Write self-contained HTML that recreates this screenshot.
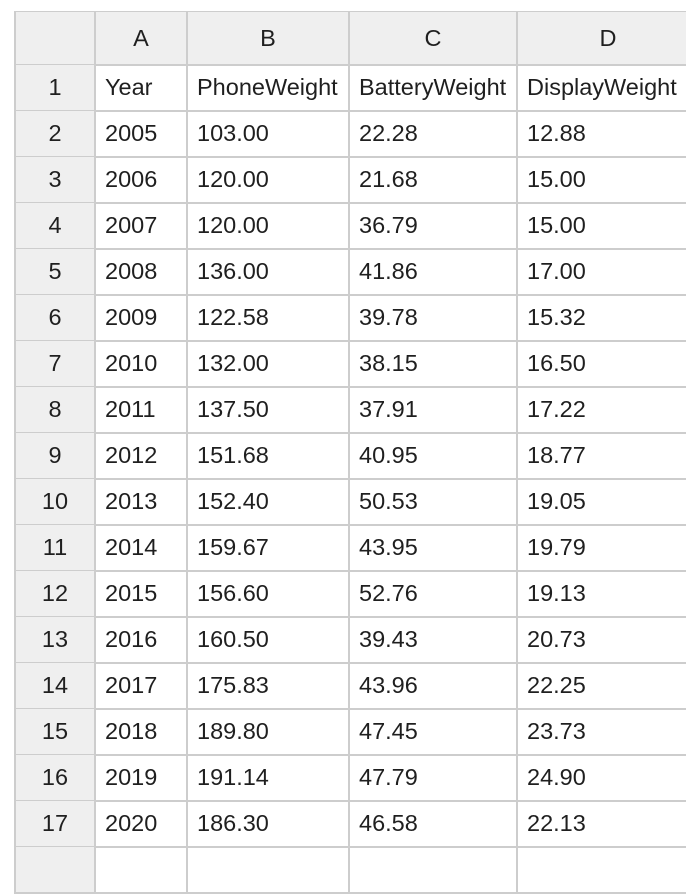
<!DOCTYPE html>
<html><head><meta charset="utf-8"><style>
body{margin:0;width:686px;height:860px;background:#fff;overflow:hidden;font-family:"Liberation Sans",Arial,sans-serif;}
#sheet{position:absolute;left:0;top:0;width:686px;height:860px;}
.c{position:absolute;box-sizing:border-box;border-right:2px solid #cdcdcd;border-bottom:2px solid #cdcdcd;font-size:23.5px;color:#1f1f1f;line-height:44px;white-space:nowrap;overflow:hidden;}
.h{background:#efefef;text-align:center;}
.d{padding-left:9px;}
</style></head><body>
<div id="sheet"></div>
<script>
const headers=["A","B","C","D"];
const cols=["Year","PhoneWeight","BatteryWeight","DisplayWeight"];
const years=["2005","2006","2007","2008","2009","2010","2011","2012","2013","2014","2015","2016","2017","2018","2019","2020"];
const phone=["103.00","120.00","120.00","136.00","122.58","132.00","137.50","151.68","152.40","159.67","156.60","160.50","175.83","189.80","191.14","186.30"];
const battery=["22.28","21.68","36.79","41.86","39.78","38.15","37.91","40.95","50.53","43.95","52.76","39.43","43.96","47.45","47.79","46.58"];
const display=["12.88","15.00","15.00","17.00","15.32","16.50","17.22","18.77","19.05","19.79","19.13","20.73","22.25","23.73","24.90","22.13"];
const xs=[14,96,188,350,518,700];
const sheet=document.getElementById('sheet');
function cell(ci,y,h,txt,cls,name){
  const el=document.createElement('div');
  el.className='c '+cls;
  el.style.left=xs[ci]+'px';el.style.top=y+'px';
  el.style.width=(xs[ci+1]-xs[ci])+'px';el.style.height=h+'px';
  el.style.lineHeight=(h-2)+'px';
  if(ci===0) el.style.borderLeft='2px solid #cdcdcd';
  el.textContent=txt;
  
  
  sheet.appendChild(el);
}
const tb=document.createElement('div');
tb.style.cssText='position:absolute;left:14px;top:11px;width:672px;height:2px;background:#cdcdcd';


sheet.appendChild(tb);
cell(0,12,54,'','h','corner-cell');
headers.forEach((t,i)=>cell(i+1,12,54,t,'h','column-header-'+t.toLowerCase()));
const rows=[cols].concat(years.map((y,i)=>[y,phone[i],battery[i],display[i]]));
rows.forEach((r,ri)=>{
  const y=65+ri*46;
  cell(0,y,47,String(ri+1),'h','row-header-'+(ri+1));
  r.forEach((v,ci)=>cell(ci+1,y,47,v,'d','cell-'+headers[ci].toLowerCase()+(ri+1)));
});
const lastTop=65+rows.length*46;
cell(0,lastTop,47,'','h','row-header-18');
for(let ci=0;ci<4;ci++) cell(ci+1,lastTop,47,'','d','cell-'+headers[ci].toLowerCase()+'18');
</script>
</body></html>
